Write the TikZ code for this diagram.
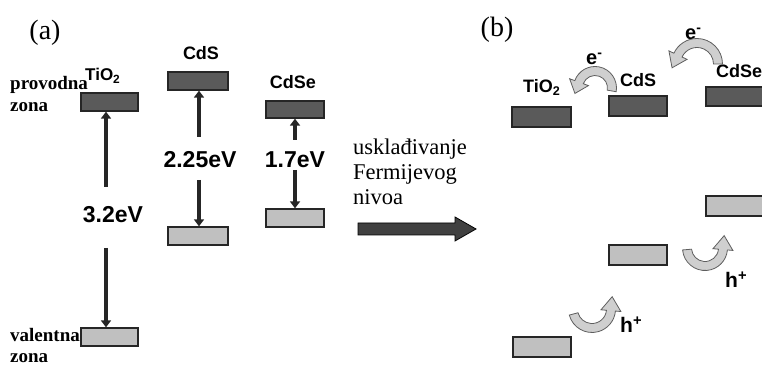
\documentclass[tikz,border=0pt]{standalone}
\usepackage{fontspec}
\setmainfont{Liberation Serif}
\setsansfont{Liberation Sans}
\usetikzlibrary{arrows.meta}
\definecolor{cbfill}{HTML}{5A5A5A}
\definecolor{vbfill}{HTML}{C0C0C0}
\definecolor{arcfill}{HTML}{CFCFCF}
\definecolor{arcline}{HTML}{5E5E5E}
\definecolor{blockarr}{HTML}{404040}
\newcommand\curvearr[6]{%
  \pgfmathsetmacro\tipx{#1+#3*cos(#5)+#6*cos(#5+90)}%
  \pgfmathsetmacro\tipy{#2+#3*sin(#5)+#6*sin(#5+90)}%
  \filldraw[curvy] ([shift={(#1,#2)}]#4:#3+4.5) arc[start angle=#4, end angle=#5, radius=#3+4.5]
    -- ([shift={(#1,#2)}]#5:#3+10) -- (\tipx,\tipy) -- ([shift={(#1,#2)}]#5:#3-10)
    -- ([shift={(#1,#2)}]#5:#3-4.5) arc[start angle=#5, end angle=#4, radius=#3-4.5] -- cycle;}
\begin{document}
\begin{tikzpicture}[x=1pt,y=1pt,
  cbbox/.style={draw=black!85, line width=1.3pt, fill=cbfill, inner sep=0, minimum height=18pt},
  vbbox/.style={draw=black!85, line width=1.3pt, fill=vbfill, inner sep=0, minimum height=18pt},
  gaparrow/.style={draw=black!85, line width=4.5pt, -{Triangle[width=10pt,length=7pt]}},
  matlbl/.style={font=\sffamily\bfseries\fontsize{18}{20}\selectfont, inner sep=0},
  rmatlbl/.style={font=\sffamily\bfseries\fontsize{18}{20}\selectfont, inner sep=0, anchor=base west},
  evlbl/.style={font=\sffamily\bfseries\fontsize{23}{26}\selectfont, inner sep=0},
  zonelbl/.style={font=\bfseries\fontsize{19}{22}\selectfont, inner sep=0, anchor=base west},
  midlbl/.style={font=\fontsize{22.5}{25}\selectfont, inner sep=0, anchor=base west},
  panel/.style={font=\fontsize{28}{30}\selectfont, inner sep=0},
  carrier/.style={font=\sffamily\bfseries\fontsize{21}{23}\selectfont, inner sep=0, anchor=base west},
  curvy/.style={fill=arcfill, draw=arcline, line width=0.8pt}]
\useasboundingbox (0,0) rectangle (762,366);

% ---------- panel (a) ----------
\node[panel] (pa) at (45,333) {(a)};
\node[zonelbl] (prov) at (10,276) {provodna};
\node[zonelbl] (zon1) at (10,254) {zona};
\node[zonelbl] (val) at (10,24) {valentna};
\node[zonelbl] (zon2) at (10,3) {zona};

\node[cbbox, minimum width=57pt] (tcb) at (109.5,264) {};
\node[vbbox, minimum width=57pt] (tvb) at (109.5,29) {};
\node[cbbox, minimum width=60pt] (scb) at (198,285) {};
\node[vbbox, minimum width=60pt] (svb) at (198,130) {};
\node[cbbox, minimum width=58pt, minimum height=17pt] (secb) at (295,256.5) {};
\node[vbbox, minimum width=58pt] (sevb) at (295,148) {};

\node[rmatlbl, font=\sffamily\bfseries\fontsize{17}{19}\selectfont] (tlbl) at (85,285) {TiO\textsubscript{2}};
\node[matlbl] (slbl) at (201,313) {CdS};
\node[matlbl] (selbl) at (293,284) {CdSe};

\node[evlbl] (tev) at (113,151) {3.2eV};
\node[evlbl] (sev) at (200,206) {2.25eV};
\node[evlbl] (seev) at (295,206) {1.7eV};

\coordinate (t1) at (106,179);
\coordinate (t2) at (106,118);
\coordinate (s1) at (199,229);
\coordinate (s2) at (199,186);
\coordinate (e1) at (295,226);
\coordinate (e2) at (295,196);
\draw[gaparrow] (t1) -- (t1 |- tcb.south);
\draw[gaparrow] (t2) -- (t2 |- tvb.north);
\draw[gaparrow] (s1) -- (s1 |- scb.south);
\draw[gaparrow] (s2) -- (s2 |- svb.north);
\draw[gaparrow] (e1) -- (e1 |- secb.south);
\draw[gaparrow] (e2) -- (e2 |- sevb.north);

% ---------- middle ----------
\node[midlbl] (m1) at (353,211) {usklađivanje};
\node[midlbl] (m2) at (353,186) {Fermijevog};
\node[midlbl] (m3) at (353,161) {nivoa};
\filldraw[fill=blockarr, draw=black, line width=0.8pt]
  (358,131) -- (455,131) -- (455,125) -- (476,137) -- (455,149) -- (455,143) -- (358,143) -- cycle;

% ---------- panel (b) ----------
\node[panel] (pb) at (497,336) {(b)};
\node[cbbox, minimum width=59pt, minimum height=20pt] (rtcb) at (541.5,249) {};
\node[cbbox, minimum width=58pt, minimum height=20pt] (rscb) at (638,260) {};
\node[cbbox, minimum width=66pt, minimum height=19pt] (rsecb) at (739,269.5) {};
\node[vbbox, minimum width=66pt, minimum height=20pt] (rsevb) at (739,160) {};
\node[vbbox, minimum width=58pt, minimum height=20pt] (rsvb) at (638,111) {};
\node[vbbox, minimum width=58pt, minimum height=20pt] (rtvb) at (542,19) {};

\node[rmatlbl] (rtl) at (523,273) {TiO\textsubscript{2}};
\node[rmatlbl] (rsl) at (620,279) {CdS};
\node[rmatlbl] (rsel) at (716,288) {CdSe};

\node[carrier, font=\sffamily\bfseries\fontsize{20}{22}\selectfont] (el1) at (586,301) {e\textsuperscript{-}};
\node[carrier, font=\sffamily\bfseries\fontsize{20}{22}\selectfont] (el2) at (685,326) {e\textsuperscript{-}};
\node[carrier] (hl1) at (620,33) {h\textsuperscript{+}};
\node[carrier] (hl2) at (725,78) {h\textsuperscript{+}};

\curvearr{595}{278}{17}{-10}{160}{12}
\curvearr{697}{302}{21}{0}{155}{14}
\curvearr{592}{57}{19}{195}{355}{14}
\curvearr{705}{118}{18}{185}{355}{14}
\end{tikzpicture}
\end{document}
